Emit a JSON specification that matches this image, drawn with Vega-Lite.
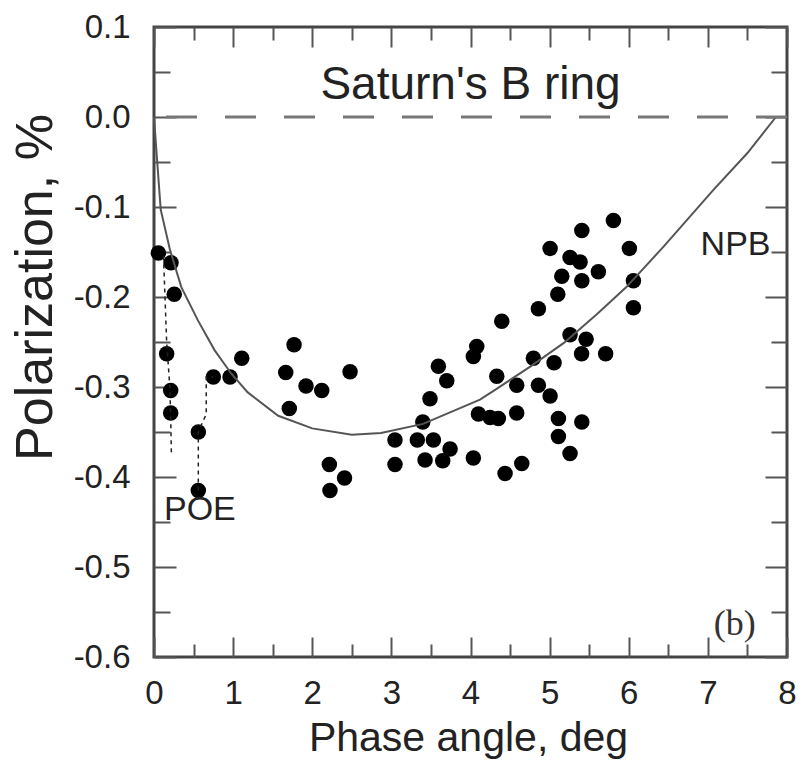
{
  "$schema": "https://vega.github.io/schema/vega-lite/v6.json",
  "width": 633,
  "height": 630,
  "autosize": {"type": "none"},
  "padding": {"left": 154, "top": 27, "right": 14, "bottom": 111},
  "config": {
    "view": {"stroke": "#444", "strokeWidth": 3},
    "font": "Liberation Sans",
    "axis": {"domain": false, "grid": false, "tickColor": "#555", "tickWidth": 2, "labelColor": "#222", "titleColor": "#222", "labelFont": "Liberation Sans", "titleFont": "Liberation Sans", "titleFontWeight": "normal", "labelFlush": false, "labelOverlap": false, "labelBound": false}
  },
  "datasets": {
    "points": [
      {"x": 0.055, "y": -0.151}, {"x": 0.215, "y": -0.162}, {"x": 0.256, "y": -0.197}, {"x": 0.160, "y": -0.263},
      {"x": 0.211, "y": -0.304}, {"x": 0.211, "y": -0.329}, {"x": 0.560, "y": -0.350}, {"x": 0.560, "y": -0.415},
      {"x": 0.750, "y": -0.289}, {"x": 0.961, "y": -0.289}, {"x": 1.109, "y": -0.268}, {"x": 1.770, "y": -0.253},
      {"x": 1.665, "y": -0.284}, {"x": 1.921, "y": -0.299}, {"x": 2.120, "y": -0.304}, {"x": 1.710, "y": -0.324},
      {"x": 2.216, "y": -0.386}, {"x": 2.224, "y": -0.415}, {"x": 2.408, "y": -0.401}, {"x": 2.478, "y": -0.283},
      {"x": 3.046, "y": -0.359}, {"x": 3.046, "y": -0.386}, {"x": 3.328, "y": -0.359}, {"x": 3.531, "y": -0.359},
      {"x": 3.742, "y": -0.369}, {"x": 3.426, "y": -0.381}, {"x": 3.649, "y": -0.382}, {"x": 3.397, "y": -0.339},
      {"x": 3.488, "y": -0.313}, {"x": 3.594, "y": -0.277}, {"x": 3.700, "y": -0.293}, {"x": 4.036, "y": -0.379},
      {"x": 4.079, "y": -0.255}, {"x": 4.036, "y": -0.266}, {"x": 4.100, "y": -0.330}, {"x": 4.247, "y": -0.334},
      {"x": 4.352, "y": -0.335}, {"x": 4.584, "y": -0.329}, {"x": 4.332, "y": -0.288}, {"x": 4.584, "y": -0.298},
      {"x": 4.395, "y": -0.227}, {"x": 4.437, "y": -0.396}, {"x": 4.648, "y": -0.385}, {"x": 4.795, "y": -0.268},
      {"x": 4.858, "y": -0.213}, {"x": 4.858, "y": -0.298}, {"x": 5.006, "y": -0.310}, {"x": 5.006, "y": -0.146},
      {"x": 5.103, "y": -0.197}, {"x": 5.154, "y": -0.177}, {"x": 5.258, "y": -0.156}, {"x": 5.385, "y": -0.161},
      {"x": 5.407, "y": -0.126}, {"x": 5.407, "y": -0.182}, {"x": 5.616, "y": -0.172}, {"x": 5.806, "y": -0.115},
      {"x": 6.008, "y": -0.146}, {"x": 6.059, "y": -0.182}, {"x": 6.059, "y": -0.212}, {"x": 5.258, "y": -0.242},
      {"x": 5.461, "y": -0.247}, {"x": 5.404, "y": -0.263}, {"x": 5.708, "y": -0.263}, {"x": 5.056, "y": -0.273},
      {"x": 5.111, "y": -0.335}, {"x": 5.407, "y": -0.339}, {"x": 5.111, "y": -0.355}, {"x": 5.258, "y": -0.374}
    ],
    "npb": [
      {"x": 0.0, "y": 0.0}, {"x": 0.03, "y": -0.037}, {"x": 0.085, "y": -0.103}, {"x": 0.2, "y": -0.147},
      {"x": 0.345, "y": -0.189}, {"x": 0.555, "y": -0.226}, {"x": 0.765, "y": -0.259}, {"x": 0.975, "y": -0.285},
      {"x": 1.185, "y": -0.306}, {"x": 1.57, "y": -0.332}, {"x": 2.0, "y": -0.346}, {"x": 2.5, "y": -0.353},
      {"x": 2.87, "y": -0.351}, {"x": 3.4, "y": -0.341}, {"x": 4.12, "y": -0.314}, {"x": 4.33, "y": -0.302},
      {"x": 4.76, "y": -0.277}, {"x": 5.18, "y": -0.251}, {"x": 5.6, "y": -0.219}, {"x": 5.97, "y": -0.189},
      {"x": 6.44, "y": -0.144}, {"x": 7.07, "y": -0.081}, {"x": 7.5, "y": -0.04}, {"x": 7.86, "y": 0.0}
    ],
    "poe": [
      {"seg": "a", "x": 0.12, "y": -0.155}, {"seg": "a", "x": 0.16, "y": -0.25}, {"seg": "a", "x": 0.2, "y": -0.30},
      {"seg": "a", "x": 0.21, "y": -0.33}, {"seg": "a", "x": 0.22, "y": -0.375},
      {"seg": "b", "x": 0.56, "y": -0.415}, {"seg": "b", "x": 0.56, "y": -0.35}, {"seg": "b", "x": 0.66, "y": -0.33},
      {"seg": "b", "x": 0.66, "y": -0.289}, {"seg": "b", "x": 0.75, "y": -0.289}
    ],
    "zero": [{"y": 0}],
    "labels": [
      {"x": 4.0, "y": 0.036, "label": "Saturn's B ring"},
      {"x": 7.35, "y": -0.142, "label": "NPB"},
      {"x": 0.58, "y": -0.437, "label": "POE"},
      {"x": 7.34, "y": -0.563, "label": "(b)"}
    ]
  },
  "layer": [
    {
      "data": {"name": "points"},
      "mark": {"type": "point", "filled": true, "shape": "circle", "size": 240, "color": "#000", "opacity": 1},
      "encoding": {
        "x": {"field": "x", "type": "quantitative", "scale": {"domain": [0, 8], "nice": false, "zero": false},
          "axis": {"orient": "bottom", "title": "Phase angle, deg", "values": [0, 1, 2, 3, 4, 5, 6, 7, 8],
            "labelExpr": "format(datum.value, 'd')", "tickSize": -20,
            "labelPadding": 40, "labelFontSize": 33, "titleFontSize": 41,
            "titleX": 314, "titleY": 81, "titleBaseline": "middle", "titleAlign": "center"}},
        "y": {"field": "y", "type": "quantitative", "scale": {"domain": [-0.6, 0.1], "nice": false, "zero": false},
          "axis": {"orient": "left", "title": "Polarization, %", "values": [0.1, 0, -0.1, -0.2, -0.3, -0.4, -0.5, -0.6],
            "labelExpr": "replace(format(datum.value, '.1f'), '\u2212', '-')", "tickSize": -22,
            "labelPadding": 46, "labelFontSize": 33, "titleFontSize": 52,
            "titleX": -119, "titleY": 260, "titleBaseline": "middle", "titleAlign": "center", "titleAngle": -90}}
      }
    },
    {
      "data": {"name": "npb"},
      "mark": {"type": "line", "color": "#555", "strokeWidth": 2},
      "encoding": {
        "x": {"field": "x", "type": "quantitative",
          "axis": {"orient": "top", "title": null, "labels": false, "values": [0, 1, 2, 3, 4, 5, 6, 7, 8], "tickSize": -20}},
        "y": {"field": "y", "type": "quantitative",
          "axis": {"orient": "right", "title": null, "labels": false, "values": [0.1, 0, -0.1, -0.2, -0.3, -0.4, -0.5, -0.6], "tickSize": -22}}
      }
    },
    {
      "data": {"name": "poe"},
      "mark": {"type": "line", "color": "#222", "strokeWidth": 1.5, "strokeDash": [4, 4]},
      "encoding": {
        "x": {"field": "x", "type": "quantitative",
          "axis": {"orient": "bottom", "title": null, "labels": false, "values": [0.5, 1.5, 2.5, 3.5, 4.5, 5.5, 6.5, 7.5], "tickSize": -13}},
        "y": {"field": "y", "type": "quantitative",
          "axis": {"orient": "left", "title": null, "labels": false, "values": [0.05, -0.05, -0.15, -0.25, -0.35, -0.45, -0.55], "tickSize": -16}},
        "detail": {"field": "seg"}
      }
    },
    {
      "data": {"name": "zero"},
      "mark": {"type": "rule", "color": "#777", "strokeWidth": 3, "strokeDash": [31, 28]},
      "encoding": {"y": {"field": "y", "type": "quantitative", "axis": null}}
    },
    {
      "data": {"name": "labels"},
      "transform": [{"filter": "datum.label === \"Saturn's B ring\""}],
      "mark": {"type": "text", "fontSize": 46, "font": "Liberation Sans", "color": "#222", "align": "center", "baseline": "middle"},
      "encoding": {
        "x": {"field": "x", "type": "quantitative",
          "axis": {"orient": "top", "title": null, "labels": false, "values": [0.5, 1.5, 2.5, 3.5, 4.5, 5.5, 6.5, 7.5], "tickSize": -13}},
        "y": {"field": "y", "type": "quantitative",
          "axis": {"orient": "right", "title": null, "labels": false, "values": [0.05, -0.05, -0.15, -0.25, -0.35, -0.45, -0.55], "tickSize": -16}},
        "text": {"field": "label"}
      }
    },
    {
      "data": {"name": "labels"},
      "transform": [{"filter": "datum.label === 'NPB' || datum.label === 'POE'"}],
      "mark": {"type": "text", "fontSize": 34, "font": "Liberation Sans", "color": "#222", "align": "center", "baseline": "middle"},
      "encoding": {"x": {"field": "x", "type": "quantitative", "axis": null}, "y": {"field": "y", "type": "quantitative", "axis": null}, "text": {"field": "label"}}
    },
    {
      "data": {"name": "labels"},
      "transform": [{"filter": "datum.label === '(b)'"}],
      "mark": {"type": "text", "fontSize": 36, "font": "Liberation Serif", "color": "#333", "align": "center", "baseline": "middle"},
      "encoding": {"x": {"field": "x", "type": "quantitative", "axis": null}, "y": {"field": "y", "type": "quantitative", "axis": null}, "text": {"field": "label"}}
    }
  ],
  "resolve": {"axis": {"x": "independent", "y": "independent"}}
}
